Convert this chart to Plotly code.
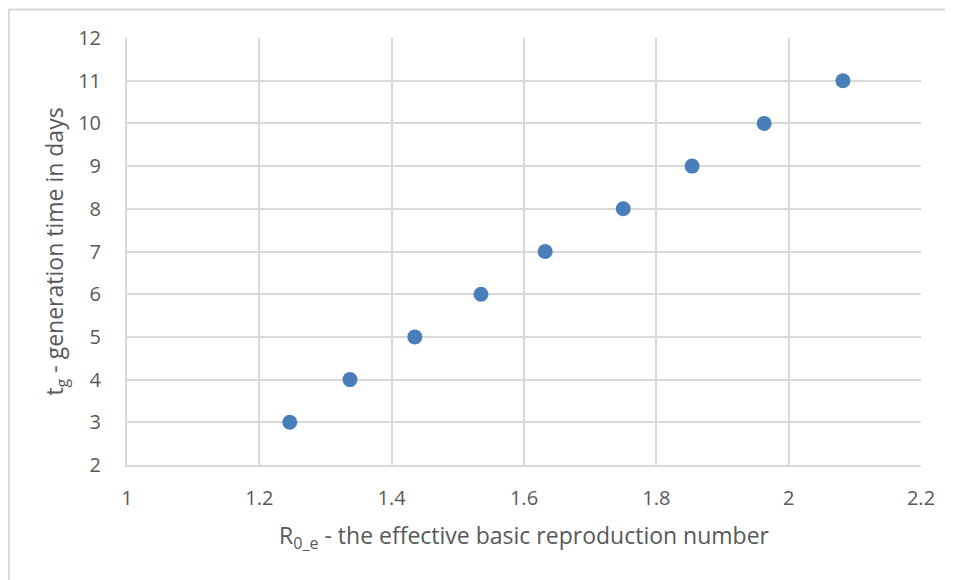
import plotly.graph_objects as go

r0e = [1.246, 1.337, 1.435, 1.535, 1.632, 1.750, 1.854, 1.963, 2.082]
tg_days = [3, 4, 5, 6, 7, 8, 9, 10, 11]

x_title = "R<sub>0_e</sub> - the effective basic reproduction number"
y_title = "t<sub>g</sub> - generation time in days"

# page body has an 8px offset; figure sized so the plot lands where the reference has it
OFF = 8
W, H = 953 - OFF, 580 - OFF
L, R, T, B = 127 - OFF, 32, 38 - OFF, 115
pw, ph = W - L - R, H - T - B

fig = go.Figure()
fig.add_trace(go.Scatter(
    x=r0e, y=tg_days, mode="markers",
    marker=dict(size=15, color="#4a7ebb", line=dict(width=0)),
    showlegend=False,
))

grid = "#d9d9d9"
family = "Open Sans, Liberation Sans, sans-serif"
tick_font = dict(family=family, size=20, color="#595959")
title_font = dict(family=family, size=23, color="#595959")

fig.update_xaxes(
    range=[1, 2.2], dtick=0.2, tick0=1, showgrid=True, gridcolor=grid, gridwidth=2,
    showline=True, linecolor=grid, linewidth=2, zeroline=False,
    ticks="", tickfont=tick_font, ticklabelstandoff=14,
    title=dict(text=x_title, font=title_font, standoff=18),
)
fig.update_yaxes(
    range=[2, 12], dtick=1, tick0=2, showgrid=True, gridcolor=grid, gridwidth=2,
    showline=True, linecolor=grid, linewidth=2, zeroline=False,
    ticks="", tickfont=tick_font, ticklabelstandoff=20,
    title=dict(text=y_title, font=title_font, standoff=8),
)

# outer chart-area border (only left/top edges visible in the reference crop)
fig.add_shape(
    type="rect", xref="paper", yref="paper",
    x0=(1 - L) / pw, x1=(W + 20 - L) / pw,
    y0=(H - B - (H + 20)) / ph, y1=(H - B - 1.5) / ph,
    line=dict(color="#d9d9d9", width=2), fillcolor="rgba(0,0,0,0)", layer="below",
)

fig.update_layout(
    width=W, height=H,
    margin=dict(l=L, r=R, t=T, b=B),
    paper_bgcolor="white", plot_bgcolor="white",
)

fig.write_html("out.html")
